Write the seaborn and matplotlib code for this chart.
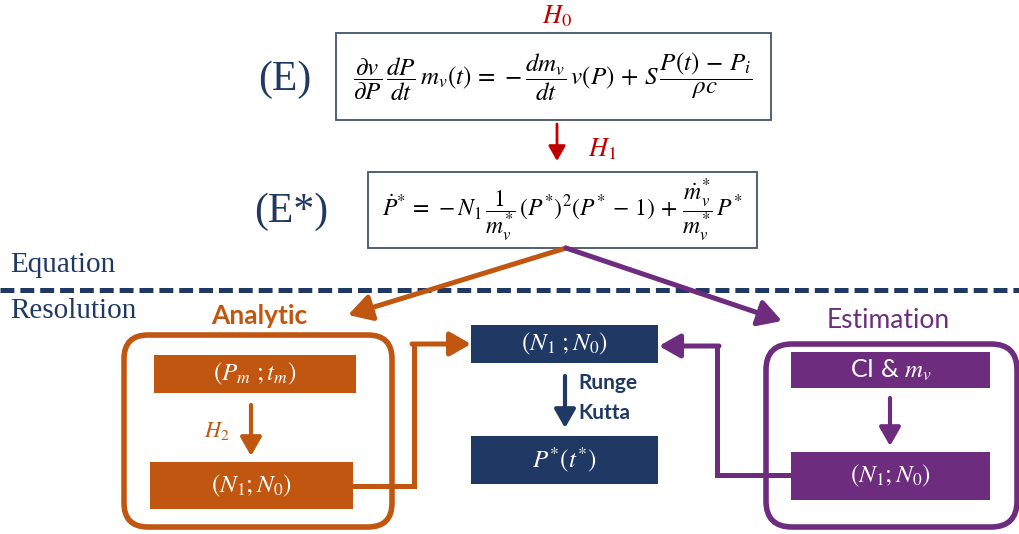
import matplotlib
matplotlib.use("Agg")
import matplotlib.pyplot as plt
from matplotlib.patches import FancyBboxPatch, Rectangle
import seaborn as sns

sns.set_theme(style="white")
plt.rcParams["mathtext.fontset"] = "stix"
plt.rcParams["lines.scale_dashes"] = False

# ---- text content ----
hyp_labels = [r"$H_0$", r"$H_1$", r"$H_2$"]
eq_names = ["(E)", "(E*)"]
equations = [
    r"$\dfrac{\partial v}{\partial P}\,\dfrac{dP}{dt}\,m_v(t) \,=\, -\dfrac{dm_v}{dt}\,v(P) \,+\, S\,\dfrac{P(t)\,-\,P_i}{\rho c}$",
    r"$\dot{P}^{*} \,=\, -N_1\,\dfrac{1}{m_v^{*}}\,(P^{*})^2(P^{*}\,-\,1) \,+\, \dfrac{\dot{m}_v^{*}}{m_v^{*}}\,P^{*}$",
]
section_labels = ["Equation", "Resolution"]
method_titles = ["Analytic", "Estimation"]
analytic_boxes = [r"$(P_m\ ;t_m)$", r"$(N_1;N_0)$"]
solver_boxes = [r"$(N_1\ ;N_0)$", r"$P^{*}(t^{*})$"]
solver_step = ["Runge", "Kutta"]
estimation_boxes = [r"CI & $m_v$", r"$(N_1;N_0)$"]

# ---- colours ----
NAVY = "#1F3864"
RED = "#C00000"
ORANGE = "#C0560F"
PURPLE = "#6E2C7E"
BORDER = "#44546A"

fig = plt.figure(figsize=(10.2, 5.34), dpi=100)
ax = fig.add_axes([0, 0, 1, 1])
ax.set_xlim(0, 1020)
ax.set_ylim(534, 0)
ax.axis("off")


def arrow(x0, y0, x1, y1, color, lw, ms=18):
    ax.annotate("", xy=(x1, y1), xytext=(x0, y0),
                arrowprops=dict(arrowstyle="-|>,head_length=0.7,head_width=0.4",
                                lw=lw, color=color, shrinkA=0, shrinkB=0,
                                mutation_scale=ms))


def filled_box(x0, y0, x1, y1, color, label, fs=18):
    ax.add_patch(Rectangle((x0, y0), x1 - x0, y1 - y0, facecolor=color,
                           edgecolor="none"))
    ax.text((x0 + x1) / 2, (y0 + y1) / 2, label, color="white", fontsize=fs,
            ha="center", va="center", family="Lato")


# ---- top equations ----
ax.text(557, 16, hyp_labels[0], color=RED, fontsize=19, ha="center", va="center")
ax.add_patch(Rectangle((336, 33), 435, 87, facecolor="white", edgecolor=BORDER, lw=1.3))
ax.text(285, 80, eq_names[0], color=NAVY, fontsize=30, ha="center", va="center",
        family="Liberation Serif")
ax.text(553, 77, equations[0], color="black", fontsize=18, ha="center", va="center")

arrow(557, 124, 557, 161, RED, 2.0, ms=13)
ax.text(602, 149, hyp_labels[1], color=RED, fontsize=19, ha="center", va="center")

ax.add_patch(Rectangle((368, 172), 389, 76, facecolor="white", edgecolor=BORDER, lw=1.3))
ax.text(291, 212, eq_names[1], color=NAVY, fontsize=30, ha="center", va="center",
        family="Liberation Serif")
ax.text(562, 211, equations[1], color="black", fontsize=17, ha="center", va="center")

# ---- section divider ----
ax.text(10, 265, section_labels[0], color=NAVY, fontsize=21, ha="left", va="center",
        family="Liberation Serif")
ax.plot([0, 1020], [290, 290], color=NAVY, lw=3.6, dashes=(10, 4.3))
ax.text(10, 311, section_labels[1], color=NAVY, fontsize=21, ha="left", va="center",
        family="Liberation Serif")

# ---- branch arrows ----
arrow(566, 248, 348, 315, ORANGE, 3.6, ms=20)
arrow(566, 248, 782, 321, PURPLE, 3.6, ms=20)

ax.text(259, 316, method_titles[0], color=ORANGE, fontsize=19, fontweight="bold",
        ha="center", va="center", family="Lato")
ax.text(888, 320, method_titles[1], color=PURPLE, fontsize=19,
        ha="center", va="center", family="Lato")

# ---- analytic block ----
ax.add_patch(FancyBboxPatch((124, 335), 268, 192,
                            boxstyle="round,pad=0,rounding_size=24",
                            facecolor="none", edgecolor=ORANGE, lw=4))
filled_box(154, 355, 356, 393, ORANGE, analytic_boxes[0])
arrow(251, 405, 251, 456, ORANGE, 3.0, ms=16)
ax.text(217, 431, hyp_labels[2], color=ORANGE, fontsize=16, ha="center", va="center")
filled_box(150, 462, 353, 509, ORANGE, analytic_boxes[1])
ax.plot([353, 414, 414], [486, 486, 344], color=ORANGE, lw=3.6,
        solid_joinstyle="miter")
arrow(412, 344, 471, 344, ORANGE, 3.6, ms=18)

# ---- solver block ----
filled_box(471, 325, 658, 363, NAVY, solver_boxes[0])
arrow(565, 376, 565, 428, NAVY, 3.0, ms=16)
ax.text(578, 383, solver_step[0], color=NAVY, fontsize=15, fontweight="bold",
        ha="left", va="center", family="Lato")
ax.text(578, 413, solver_step[1], color=NAVY, fontsize=15, fontweight="bold",
        ha="left", va="center", family="Lato")
filled_box(471, 436, 658, 484, NAVY, solver_boxes[1])

# ---- estimation block ----
ax.add_patch(FancyBboxPatch((766, 344), 251, 183,
                            boxstyle="round,pad=0,rounding_size=26",
                            facecolor="none", edgecolor=PURPLE, lw=4))
filled_box(791, 352, 990, 388, PURPLE, estimation_boxes[0])
arrow(890, 398, 890, 446, PURPLE, 3.0, ms=16)
filled_box(791, 452, 990, 500, PURPLE, estimation_boxes[1])
ax.plot([791, 717, 717], [475, 475, 346], color=PURPLE, lw=3.6,
        solid_joinstyle="miter")
arrow(719, 346, 659, 346, PURPLE, 3.6, ms=18)

fig.savefig("out.png", dpi=100, facecolor="white")
